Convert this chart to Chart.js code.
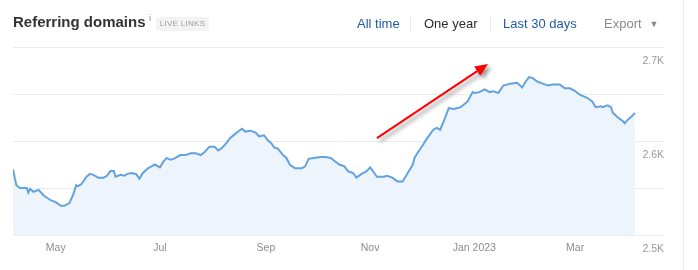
<!DOCTYPE html>
<html>
<head>
<meta charset="utf-8">
<script src="https://cdn.jsdelivr.net/npm/chart.js@4/dist/chart.umd.min.js"></script>
<style>
html,body{margin:0;padding:0;background:#fff;width:698px;height:270px;overflow:hidden;font-family:"Liberation Sans",Arial,sans-serif;}
#wrap{position:relative;width:698px;height:270px;}
#chart{position:absolute;left:0;top:0;}
.title{position:absolute;left:13px;top:13px;font-size:15px;line-height:18px;font-weight:bold;color:#333;white-space:nowrap;}
.info{position:absolute;left:149px;top:13px;font-size:9px;line-height:10px;color:#888;}
.badge{position:absolute;left:156px;top:17px;width:53px;height:14px;background:#f3f3f3;border-radius:2px;font-size:8px;line-height:14px;color:#9d9d9d;text-align:center;letter-spacing:0.3px;white-space:nowrap;}
.nav{position:absolute;top:16px;font-size:13px;line-height:16px;white-space:nowrap;}
.blue{color:#1f5aa3;}
.dark{color:#2b2b2b;}
.gray{color:#8a8a8a;}
.sep{position:absolute;top:17px;width:1px;height:15px;background:#e8e8e8;}
.vline{position:absolute;left:683px;top:0;width:1px;height:270px;background:#ececec;}
.caret{font-size:9px;margin-left:8px;position:relative;top:-1px;}
</style>
</head>
<body>
<div id="wrap">
  <canvas id="chart" width="698" height="270"></canvas>
  <div class="title">Referring domains</div>
  <div class="info">i</div>
  <div class="badge">LIVE LINKS</div>
  <div class="nav blue" style="left:357px;">All time</div>
  <div class="sep" style="left:410px;"></div>
  <div class="nav dark" style="left:424px;">One year</div>
  <div class="sep" style="left:490px;"></div>
  <div class="nav blue" style="left:503px;">Last 30 days</div>
  <div class="nav gray" style="left:604px;">Export<span class="caret">▼</span></div>
  <div class="vline"></div>
</div>
<script>
// ---- data ----
const startDate = '2022-04-06';
const axisEndDate = '2023-04-22';
const dayOffsets = [
  0,1,2,4,6,8,9,10,12,15,
  18,22,25,28,30,33,35,37,38,40,
  43,45,47,50,53,55,57,59,60,63,
  65,67,69,72,74,76,79,81,83,86,
  88,90,92,94,98,101,104,107,110,112,
  115,118,120,122,125,127,129,131,134,136,
  139,142,144,147,149,151,153,155,158,160,
  162,165,169,171,173,176,180,183,186,188,
  191,194,196,199,201,204,207,209,211,213,
  217,219,222,225,228,231,234,235,237,240,
  242,246,248,250,253,255,258,262,266,269,
  270,273,276,279,281,284,287,291,295,298,
  300,302,304,307,310,313,316,320,323,326,
  329,332,336,339,341,344,345,348,350,351,
  354,357,358,360,362,364
];
const referringDomains = [
  2570,2561,2553,2550,2550,2550,2545,2549,2546,2548,
  2542,2537,2535,2531,2531,2534,2542,2553,2552,2554,
  2562,2565,2564,2561,2561,2563,2568,2568,2562,2564,
  2563,2565,2566,2565,2560,2566,2571,2573,2575,2572,
  2578,2582,2580,2581,2585,2585,2587,2587,2585,2588,
  2594,2594,2590,2592,2598,2603,2606,2609,2613,2610,
  2611,2609,2605,2606,2601,2598,2593,2592,2585,2582,
  2575,2571,2571,2573,2581,2582,2583,2583,2582,2579,
  2575,2573,2568,2566,2561,2565,2568,2572,2567,2562,
  2562,2563,2561,2557,2557,2566,2575,2582,2588,2596,
  2602,2612,2614,2612,2625,2635,2634,2636,2642,2652,
  2651,2652,2655,2652,2653,2651,2659,2661,2662,2657,
  2663,2668,2667,2663,2661,2659,2660,2660,2656,2656,
  2653,2649,2646,2642,2636,2637,2636,2638,2636,2630,
  2625,2621,2619,2623,2626,2630
];
const xTickDates = ['2022-05-01','2022-07-01','2022-09-01','2022-11-01','2023-01-01','2023-03-01'];
const xTickLabels = ['May','Jul','Sep','Nov','Jan 2023','Mar'];
const yTickValues = [2500,2550,2600,2650,2700];
const yTickLabels = ['2.5K','','2.6K','','2.7K'];
// annotation arrow (in data units: day offset, value)
const arrowFrom = {day:213, value:2603};
const arrowTo = {day:278, value:2682};

// ---- helpers ----
const dayOf = s => Math.round((Date.parse(s) - Date.parse(startDate)) / 86400000);
const xTickDays = xTickDates.map(dayOf);
const points = dayOffsets.map((d, i) => ({x: d, y: referringDomains[i]}));

const FONT = '"Liberation Sans", Arial, sans-serif';

const tickMarks = {
  id: 'tickMarks',
  beforeDatasetsDraw(chart) {
    const {ctx, scales: {x}, chartArea} = chart;
    ctx.save();
    ctx.strokeStyle = '#e3e3e3';
    ctx.lineWidth = 1;
    xTickDays.forEach(d => {
      const px = Math.round(x.getPixelForValue(d)) + 0.5;
      ctx.beginPath();
      ctx.moveTo(px, chartArea.bottom);
      ctx.lineTo(px, chartArea.bottom - 6);
      ctx.stroke();
    });
    ctx.restore();
  }
};

const arrowPlugin = {
  id: 'arrowPlugin',
  afterDatasetsDraw(chart) {
    const {ctx, scales: {x, y}} = chart;
    const x1 = x.getPixelForValue(arrowFrom.day), y1 = y.getPixelForValue(arrowFrom.value);
    const x2 = x.getPixelForValue(arrowTo.day), y2 = y.getPixelForValue(arrowTo.value);
    const ang = Math.atan2(y2 - y1, x2 - x1);
    const headLen = 13, headW = 5.5;
    const bx = x2 - headLen * Math.cos(ang), by = y2 - headLen * Math.sin(ang);
    ctx.save();
    ctx.shadowColor = 'rgba(0,0,0,0.45)';
    ctx.shadowBlur = 4;
    ctx.shadowOffsetX = 3;
    ctx.shadowOffsetY = 3;
    ctx.strokeStyle = '#ff0000';
    ctx.fillStyle = '#ff0000';
    ctx.lineWidth = 2;
    ctx.beginPath();
    ctx.moveTo(x1, y1);
    ctx.lineTo(bx, by);
    ctx.stroke();
    ctx.beginPath();
    ctx.moveTo(x2, y2);
    ctx.lineTo(bx + headW * Math.sin(ang), by - headW * Math.cos(ang));
    ctx.lineTo(bx - headW * Math.sin(ang), by + headW * Math.cos(ang));
    ctx.closePath();
    ctx.fill();
    ctx.restore();
  }
};

new Chart(document.getElementById('chart'), {
  type: 'line',
  data: {
    datasets: [{
      data: points,
      borderColor: '#62a3df',
      backgroundColor: '#eef4fc',
      borderWidth: 2,
      fill: 'start',
      tension: 0,
      pointRadius: 0,
      pointHoverRadius: 0
    }]
  },
  options: {
    responsive: false,
    devicePixelRatio: 1,
    animation: false,
    events: [],
    layout: {padding: {left: 13, right: 34, top: 47, bottom: 5}},
    plugins: {legend: {display: false}, tooltip: {enabled: false}},
    scales: {
      x: {
        type: 'linear',
        min: 0,
        max: dayOf(axisEndDate),
        afterBuildTicks: s => { s.ticks = xTickDays.map(v => ({value: v})); },
        afterFit: s => { s.height = 30; },
        grid: {display: false, drawTicks: false, tickLength: 0},
        border: {display: false},
        ticks: {
          autoSkip: false,
          maxRotation: 0,
          padding: 7,
          color: '#8d8d8d',
          font: {family: FONT, size: 10.5},
          callback: (v, i) => xTickLabels[i]
        }
      },
      y: {
        position: 'right',
        min: 2500,
        max: 2700,
        afterBuildTicks: s => { s.ticks = yTickValues.map(v => ({value: v})); },
        afterFit: s => { s.width = 0; },
        grid: {color: '#ebebeb', lineWidth: 1, drawTicks: false},
        border: {display: false},
        ticks: {
          mirror: true,
          padding: 0,
          labelOffset: 14,
          color: '#999999',
          font: {family: FONT, size: 10.5},
          callback: (v, i) => yTickLabels[i]
        }
      }
    }
  },
  plugins: [tickMarks, arrowPlugin]
});
</script>
</body>
</html>
